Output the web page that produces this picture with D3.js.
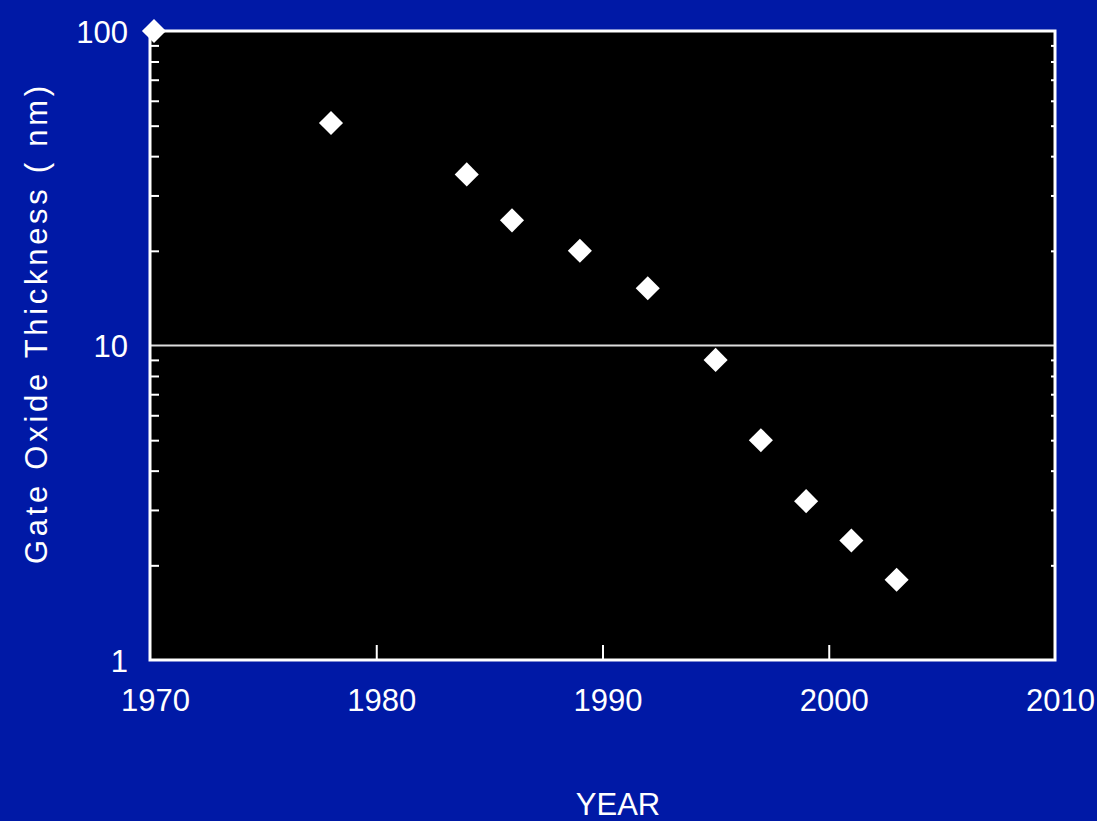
<!DOCTYPE html>
<html>
<head>
<meta charset="utf-8">
<script src="https://cdn.jsdelivr.net/npm/d3@7"></script>
<style>
  html, body { margin: 0; padding: 0; background: #0019a6; }
  svg { display: block; }
  text { font-family: "Liberation Sans", Arial, sans-serif; fill: #fff; }
</style>
</head>
<body>
<div id="chart"></div>
<script>
// data
var years = [1970, 1978, 1984, 1986, 1989, 1992, 1995, 1997, 1999, 2001, 2003];
var thickness = [100, 51, 35, 25, 20, 15.2, 9.0, 5.0, 3.2, 2.4, 1.8];
var xTicks = [1970, 1980, 1990, 2000, 2010];
var yTicks = [1, 10, 100];
var yMinor = [2, 3, 4, 5, 6, 7, 8, 9, 20, 30, 40, 50, 60, 70, 80, 90];

var W = 1097, H = 821;
// note: "top" is a reserved window prop, so use plot* names
var plotL = 150, plotR = 1055, plotT = 31, plotB = 660;

var svg = d3.select("#chart")
    .append("svg")
    .attr("width", W)
    .attr("height", H);

svg.append("rect")
    .attr("width", W)
    .attr("height", H)
    .attr("fill", "#0019a6");

var x = d3.scaleLinear().domain([1970, 2010]).range([plotL, plotR]);
var y = d3.scaleLog().domain([1, 100]).range([plotB, plotT]);

// plot area
svg.append("rect")
    .attr("x", plotL)
    .attr("y", plotT)
    .attr("width", plotR - plotL)
    .attr("height", plotB - plotT)
    .attr("fill", "#000");

// line at 10 nm
svg.append("line")
    .attr("x1", plotL).attr("x2", plotR)
    .attr("y1", y(10)).attr("y2", y(10))
    .attr("stroke", "#ddd")
    .attr("stroke-width", 2);

// minor ticks
var gMinor = svg.append("g")
    .attr("transform", "translate(" + plotL + ",0)")
    .call(d3.axisRight(y).tickValues(yMinor).tickSize(9).tickFormat(""));
var gMinorR = svg.append("g")
    .attr("transform", "translate(" + plotR + ",0)")
    .call(d3.axisLeft(y).tickValues(yMinor).tickSize(4).tickFormat(""));
var gXt = svg.append("g")
    .attr("transform", "translate(0," + plotB + ")")
    .call(d3.axisTop(x).tickValues([1980, 1990, 2000]).tickSize(15).tickFormat(""));
[gMinor, gMinorR, gXt].forEach(function(g) {
    g.select(".domain").remove();
    g.selectAll("line").attr("stroke", "#fff").attr("stroke-width", 2);
});

// tick labels
var gy = svg.append("g")
    .attr("transform", "translate(" + (plotL - 22) + ",0)")
    .call(d3.axisLeft(y).tickValues(yTicks).tickSize(0).tickPadding(0).tickFormat(d3.format("d")));
gy.select(".domain").remove();
gy.selectAll("text")
    .style("font-size", "31px")
    .attr("fill", "#fff")
    .attr("dy", "0.36em");

var gx = svg.append("g")
    .attr("transform", "translate(5," + (plotB + 51) + ")")
    .call(d3.axisBottom(x).tickValues(xTicks).tickSize(0).tickPadding(0).tickFormat(d3.format("d")));
gx.select(".domain").remove();
gx.selectAll("text")
    .style("font-size", "31px")
    .attr("fill", "#fff")
    .attr("dy", "0");

// frame
svg.append("rect")
    .attr("x", plotL)
    .attr("y", plotT)
    .attr("width", plotR - plotL)
    .attr("height", plotB - plotT)
    .attr("fill", "none")
    .attr("stroke", "#fff")
    .attr("stroke-width", 3);

// points
var diamond = d3.symbol().type(d3.symbolSquare).size(290);
svg.selectAll(".pt")
    .data(years)
    .enter()
    .append("path")
    .attr("class", "pt")
    .attr("d", diamond)
    .attr("fill", "#fff")
    .attr("transform", function(d, i) {
        return "translate(" + (x(d) + (i === 0 ? 4 : 0)) + "," + y(thickness[i]) + ") rotate(45)";
    });

// axis titles
svg.append("text")
    .attr("x", 618)
    .attr("y", 815)
    .attr("text-anchor", "middle")
    .style("font-size", "31px")
    .text("YEAR");

svg.append("text")
    .attr("transform", "translate(47,325) rotate(-90)")
    .attr("text-anchor", "middle")
    .attr("textLength", 478)
    .attr("lengthAdjust", "spacing")
    .style("font-size", "31px")
    .text("Gate Oxide Thickness ( nm)");
</script>
</body>
</html>
